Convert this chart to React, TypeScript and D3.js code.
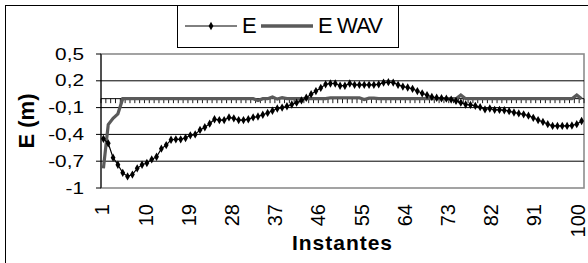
import * as d3 from "d3";

// instantes 1..100
const instantes = d3.range(1, 101);

// serie E (m)
const eValues = [
  -0.45, -0.5, -0.66, -0.74, -0.83, -0.87, -0.85, -0.78, -0.74, -0.72,
  -0.68, -0.65, -0.56, -0.52, -0.46, -0.455, -0.455, -0.44, -0.41, -0.4,
  -0.35, -0.32, -0.28, -0.23, -0.24, -0.24, -0.21, -0.22, -0.24, -0.24,
  -0.23, -0.21, -0.2, -0.18, -0.16, -0.135, -0.11, -0.1, -0.085, -0.065,
  -0.045, -0.02, 0.01, 0.05, 0.085, 0.12, 0.16, 0.17, 0.17, 0.145,
  0.145, 0.17, 0.155, 0.155, 0.155, 0.155, 0.155, 0.16, 0.18, 0.185,
  0.18, 0.155, 0.135, 0.125, 0.11, 0.085, 0.06, 0.04, 0.02, 0.01,
  0.005, 0, -0.01, -0.025, -0.045, -0.065, -0.07, -0.08, -0.095, -0.12,
  -0.11, -0.125, -0.125, -0.13, -0.14, -0.155, -0.165, -0.175, -0.19, -0.215,
  -0.24, -0.26, -0.285, -0.305, -0.305, -0.305, -0.305, -0.3, -0.285, -0.25,
];

// serie E WAV (m)
const eWavValues = [
  -0.78, -0.29, -0.22, -0.17, 0, 0, 0, 0, 0, 0,
  0, 0, 0, 0, 0, 0, 0, 0, 0, 0,
  0, 0, 0, 0, 0, 0, 0, 0, 0, 0,
  0, 0, -0.02, 0, 0, 0.02, -0.005, 0.012, 0, 0,
  0, 0, 0, 0, 0, 0, 0, 0.01, 0.01, 0.01,
  0.01, 0.01, 0.01, 0.01, -0.01, 0.005, 0.005, 0, 0, 0,
  0, 0, 0, 0, 0, 0, 0, 0, 0, 0,
  0, 0, 0, 0, 0.04, 0, 0, 0, 0, 0,
  0, 0, 0, 0, 0, 0, 0, 0, 0, 0,
  0, 0, 0, 0, 0, 0, 0, 0, 0.04, 0,
];

const yTicks = [0.5, 0.2, -0.1, -0.4, -0.7, -1];
const xLabels = [1, 10, 19, 28, 37, 46, 55, 64, 73, 82, 91, 100];

const fmt = (v: number) => String(v).replace(".", ",");

export default function App() {
  const W = 588;
  const H = 263;
  const left = 101;
  const right = 584;
  const top = 54;
  const bottom = 188;

  const x = d3.scaleBand<number>().domain(instantes).range([left, right]).padding(0);
  const cx = (i: number) => (x(i) as number) + x.bandwidth() / 2;
  const y = d3.scaleLinear().domain([-1, 0.5]).range([bottom, top]);
  // las etiquetas de categoría quedan un poco más juntas que las marcas
  const xl = d3.scaleLinear().domain([1, 100]).range([cx(1) - 1, cx(100) - 4]);

  const lineE = d3
    .line<number>()
    .x((_, i) => cx(instantes[i]))
    .y((d) => y(d));

  const diamond = d3.symbol().type(d3.symbolDiamond).size(20)() as string;
  const font = "'Liberation Sans', Arial, sans-serif";
  const y0 = y(0);

  return (
    <svg
      width={W}
      height={H}
      style={{ position: "absolute", left: 0, top: 0, background: "#fff" }}
      fontFamily={font}
    >
      {/* marco exterior */}
      <rect x={5.5} y={5.5} width={620} height={300} fill="#fff" stroke="#000" strokeWidth={1} />

      {/* área del gráfico */}
      <rect x={left} y={top} width={right - left} height={bottom - top} fill="#fff" stroke="#8c8c8c" strokeWidth={1.6} />

      {/* líneas de división */}
      {yTicks
        .filter((t) => t !== 0.5 && t !== -1)
        .map((t) => (
          <line key={t} x1={left} x2={right} y1={y(t)} y2={y(t)} stroke="#000" strokeWidth={1} />
        ))}

      {/* eje Y */}
      <line x1={left} x2={left} y1={top} y2={bottom} stroke="#000" />
      {yTicks.map((t) => (
        <g key={t}>
          <line x1={left - 5} x2={left} y1={y(t)} y2={y(t)} stroke="#000" />
          <text
            transform={`translate(84,${y(t) + 5.5}) scale(1.3,1)`}
            textAnchor="end"
            fontSize={16}
          >
            {fmt(t)}
          </text>
        </g>
      ))}

      {/* eje X en 0 */}
      <line x1={left} x2={right} y1={y0} y2={y0} stroke="#000" />
      {d3.range(0, instantes.length + 1).map((k) => {
        const xx = left + k * x.bandwidth();
        return <line key={k} x1={xx} x2={xx} y1={y0} y2={y0 + 4.5} stroke="#000" strokeWidth={0.9} />;
      })}
      {xLabels.map((v) => (
        <text
          key={v}
          transform={`translate(${xl(v) + 7},204) rotate(-90)`}
          textAnchor="end"
          fontSize={20}
        >
          {v}
        </text>
      ))}

      {/* series */}
      <path d={lineE(eWavValues) as string} fill="none" stroke="#5a5a5a" strokeWidth={3.2} />
      <path d={lineE(eValues) as string} fill="none" stroke="#000" strokeWidth={1.2} />
      {eValues.map((v, i) => (
        <path key={i} d={diamond} transform={`translate(${cx(instantes[i])},${y(v)})`} fill="#000" />
      ))}

      {/* títulos */}
      <text transform="translate(34,121) rotate(-90)" textAnchor="middle" fontSize={22} fontWeight="bold">
        E (m)
      </text>
      <text x={342} y={250} textAnchor="middle" fontSize={21} fontWeight="bold" textLength={100}>
        Instantes
      </text>

      {/* leyenda */}
      <rect x={177.5} y={5.5} width={221} height={42} fill="#fff" stroke="#000" />
      <line x1={185} x2={237} y1={26} y2={26} stroke="#000" />
      <path d={diamond} transform="translate(211,26)" fill="#000" />
      <text x={242} y={33} fontSize={22}>E</text>
      <line x1={261} x2={313} y1={26} y2={26} stroke="#5a5a5a" strokeWidth={3.4} />
      <text x={318} y={33} fontSize={22} textLength={65}>E WAV</text>
    </svg>
  );
}
